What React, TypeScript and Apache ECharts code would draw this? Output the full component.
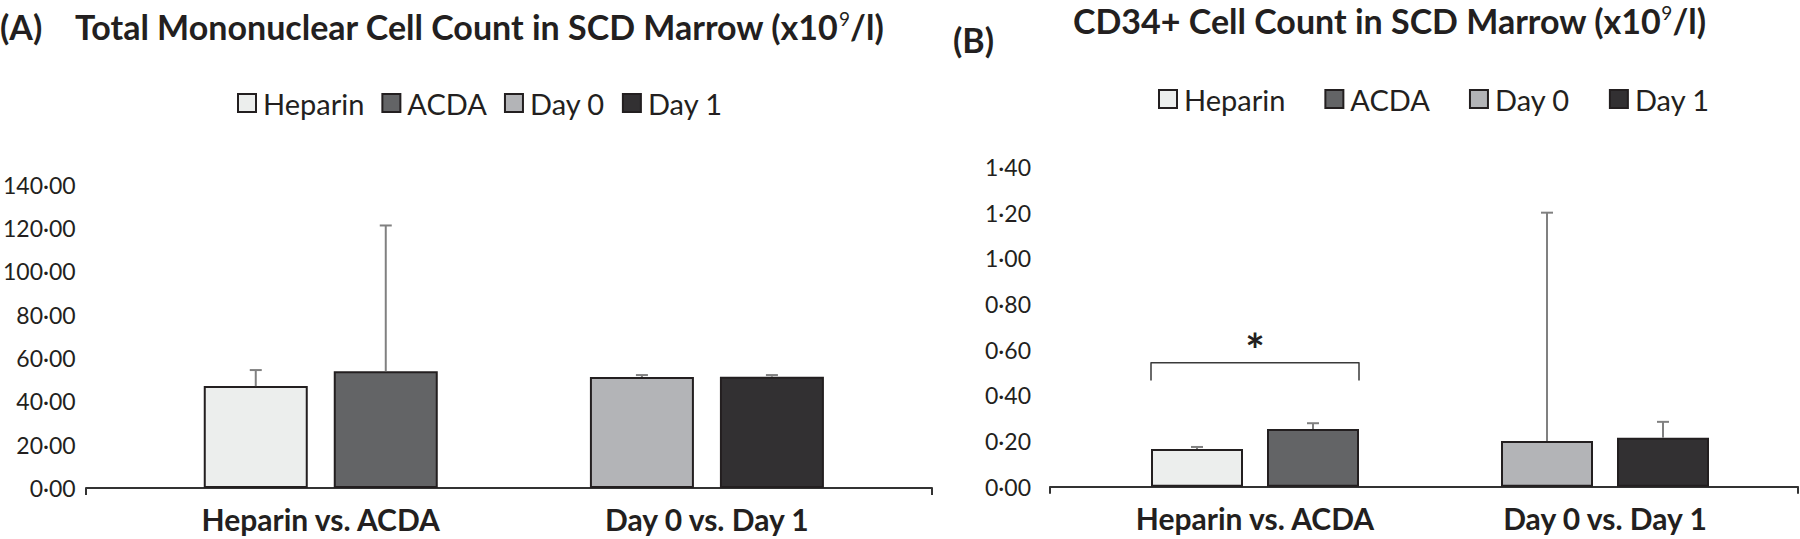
import React, { useEffect, useRef } from 'react';
import * as echarts from 'echarts';

// ---------- data ----------
const categories = ['Heparin vs. ACDA', 'Day 0 vs. Day 1'];
const seriesNames = ['Heparin', 'ACDA', 'Day 0', 'Day 1'];
const seriesCategory = [0, 0, 1, 1]; // which comparison each group belongs to
const seriesSlot = [-1, 1, -1, 1]; // left / right bar inside the comparison

// (A) Total mononuclear cell count (x10^9/l)
const mncMeans = [47.0, 53.9, 51.2, 51.3];
const mncSD = [7.4, 67.2, 0.9, 0.8];
const mncAxisMax = 140;
const mncAxisStep = 20;

// (B) CD34+ cell count (x10^9/l)
const cd34Means = [0.165, 0.253, 0.2, 0.214];
const cd34SD = [0.009, 0.025, 1.0, 0.07];
const cd34AxisMax = 1.4;
const cd34AxisStep = 0.2;

// significance bracket (Heparin vs. ACDA, panel B)
const sigCategory = 0;
const sigBracketTop = 0.543;
const sigBracketLeg = 0.465;
const sigStarLevel = 0.6;
const sigLabel = '*';

// ---------- style ----------
const TEXT = '#231f20';
const FONT = 'Lato';
const fillColors = ['#eceeed', '#636466', '#b3b4b7', '#323032'];
const ERR = '#808080';

const panels = [
  {
    means: mncMeans,
    sd: mncSD,
    max: mncAxisMax,
    step: mncAxisStep,
    grid: { left: 120, width: 780, top: 184.5, height: 303.5 },
    line: { left: 86, width: 846 },
    barWidth: 104,
    gapPx: 26,
    labelMargin: 52,
    catMargin: 17,
  },
  {
    means: cd34Means,
    sd: cd34SD,
    max: cd34AxisMax,
    step: cd34AxisStep,
    grid: { left: 1080, width: 700, top: 167, height: 319.7 },
    line: { left: 1050, width: 748 },
    barWidth: 92,
    gapPx: 24,
    labelMargin: 49,
    catMargin: 17,
  },
];

const fmt = (v: number) => v.toFixed(2).replace('.', '\u00b7');

function buildOption() {
  const grid: any[] = [];
  const xAxis: any[] = [];
  const yAxis: any[] = [];
  const series: any[] = [];

  panels.forEach((p, pi) => {
    const gMain = pi * 2;
    const gLine = pi * 2 + 1;
    grid.push({ left: p.grid.left, width: p.grid.width, top: p.grid.top, height: p.grid.height, containLabel: false });
    grid.push({ left: p.line.left, width: p.line.width, top: p.grid.top, height: p.grid.height, containLabel: false });

    xAxis.push({
      type: 'category',
      gridIndex: gMain,
      data: categories,
      axisLine: { show: false },
      axisTick: { show: false },
      axisLabel: {
        margin: p.catMargin,
        fontFamily: FONT,
        fontSize: 30,
        fontWeight: 'bold',
        color: TEXT,
        lineHeight: 28,
      },
    });
    xAxis.push({
      type: 'value',
      gridIndex: gLine,
      min: 0,
      max: 1,
      interval: 1,
      axisLine: { show: true, lineStyle: { color: '#333', width: 2 } },
      axisTick: { show: true, length: 7, lineStyle: { color: '#333', width: 2 } },
      axisLabel: { show: false },
      splitLine: { show: false },
    });
    yAxis.push({
      type: 'value',
      gridIndex: gMain,
      min: 0,
      max: p.max,
      interval: p.step,
      axisLine: { show: false },
      axisTick: { show: false },
      splitLine: { show: false },
      axisLabel: {
        margin: p.labelMargin,
        fontFamily: FONT,
        fontSize: 23,
        color: TEXT,
        formatter: (v: number) => fmt(v),
      },
    });
    yAxis.push({ type: 'value', gridIndex: gLine, min: 0, max: 1, show: false });

    const half = (p.barWidth + p.gapPx) / 2;

    seriesNames.forEach((name, i) => {
      series.push({
        type: 'bar',
        name,
        xAxisIndex: gMain,
        yAxisIndex: gMain,
        stack: 'p' + pi + (seriesSlot[i] < 0 ? 'L' : 'R'),
        barWidth: p.barWidth,
        barGap: (p.gapPx / p.barWidth) * 100 + '%',
        data: categories.map((_, c) => (c === seriesCategory[i] ? p.means[i] : '-')),
        itemStyle: { color: fillColors[i], borderColor: TEXT, borderWidth: 2 },
        z: 2,
      });
    });

    series.push({
      type: 'custom',
      name: 'err' + pi,
      xAxisIndex: gMain,
      yAxisIndex: gMain,
      z: 5,
      silent: true,
      data: seriesNames.map((_, i) => [seriesCategory[i], p.means[i], p.means[i] + p.sd[i], seriesSlot[i]]),
      encode: { x: 0, y: [1, 2] },
      renderItem: (params: any, api: any) => {
        const c = api.value(0);
        const base = api.coord([c, api.value(1)]);
        const top = api.coord([c, api.value(2)]);
        const x = base[0] + api.value(3) * half;
        const st = { stroke: ERR, lineWidth: 2 };
        return {
          type: 'group',
          children: [
            { type: 'line', shape: { x1: x, y1: base[1], x2: x, y2: top[1] }, style: st },
            { type: 'line', shape: { x1: x - 6, y1: top[1], x2: x + 6, y2: top[1] }, style: st },
          ],
        };
      },
    });

    if (pi === 1) {
      series.push({
        type: 'custom',
        name: 'sig',
        xAxisIndex: gMain,
        yAxisIndex: gMain,
        z: 5,
        silent: true,
        data: [[sigCategory, sigBracketTop, sigBracketLeg, sigStarLevel]],
        encode: { x: 0, y: [1, 2, 3] },
        renderItem: (params: any, api: any) => {
          const c = api.value(0);
          const t = api.coord([c, api.value(1)]);
          const l = api.coord([c, api.value(2)]);
          const s = api.coord([c, api.value(3)]);
          const w = p.barWidth + p.gapPx / 2;
          return {
            type: 'group',
            children: [
              {
                type: 'polyline',
                shape: {
                  points: [
                    [t[0] - w, l[1]],
                    [t[0] - w, t[1]],
                    [t[0] + w, t[1]],
                    [t[0] + w, l[1]],
                  ],
                },
                style: { stroke: '#3a3a3a', lineWidth: 1.5, fill: null, lineJoin: 'round' },
              },
              {
                type: 'text',
                x: s[0],
                y: s[1],
                style: {
                  text: sigLabel,
                  font: 'bold 46px Lato',
                  fill: TEXT,
                  align: 'center',
                  verticalAlign: 'middle',
                },
              },
            ],
          };
        },
      });
    }
  });

  const titleRich = {
    b: { fontFamily: FONT, fontSize: 34, fontWeight: 'bold', color: TEXT, lineHeight: 34 },
    s: { fontFamily: FONT, fontSize: 19, fontWeight: 'normal', color: TEXT, lineHeight: 24, verticalAlign: 'top' },
  };

  const legendBase = {
    data: seriesNames,
    icon: 'rect',
    itemWidth: 18,
    itemHeight: 18,
    padding: 0,
    selectedMode: false,
    textStyle: { fontFamily: FONT, fontSize: 29, color: TEXT, lineHeight: 30, padding: [0, 0, 0, 2] },
  };

  return {
    animation: false,
    backgroundColor: '#ffffff',
    textStyle: { fontFamily: FONT },
    title: [
      { text: '(A)', left: 0, top: 9, padding: 0, textStyle: { fontFamily: FONT, fontSize: 34, fontWeight: 'bold', color: TEXT, lineHeight: 34 } },
      {
        text: '{b|Total Mononuclear Cell Count in SCD Marrow (x10}{s|9}{b|/l)}',
        left: 75,
        top: 9,
        padding: 0,
        textStyle: { rich: titleRich },
      },
      { text: '(B)', left: 953, top: 22, padding: 0, textStyle: { fontFamily: FONT, fontSize: 34, fontWeight: 'bold', color: TEXT, lineHeight: 34 } },
      {
        text: '{b|CD34+ Cell Count in SCD Marrow (x10}{s|9}{b|/l)}',
        left: 1073,
        top: 3,
        padding: 0,
        textStyle: { rich: titleRich },
      },
    ],
    legend: [
      { ...legendBase, left: 237, top: 88, itemGap: 17 },
      { ...legendBase, left: 1158, top: 84, itemGap: 39 },
    ],
    grid,
    xAxis,
    yAxis,
    series,
  };
}

export default function App() {
  const ref = useRef<HTMLDivElement>(null);
  useEffect(() => {
    if (!ref.current) return;
    const chart = echarts.init(ref.current, undefined, { renderer: 'svg' });
    chart.setOption(buildOption() as any);
    return () => chart.dispose();
  }, []);
  return <div ref={ref} style={{ position: 'absolute', left: 0, top: 0, width: 1800, height: 539 }} />;
}
